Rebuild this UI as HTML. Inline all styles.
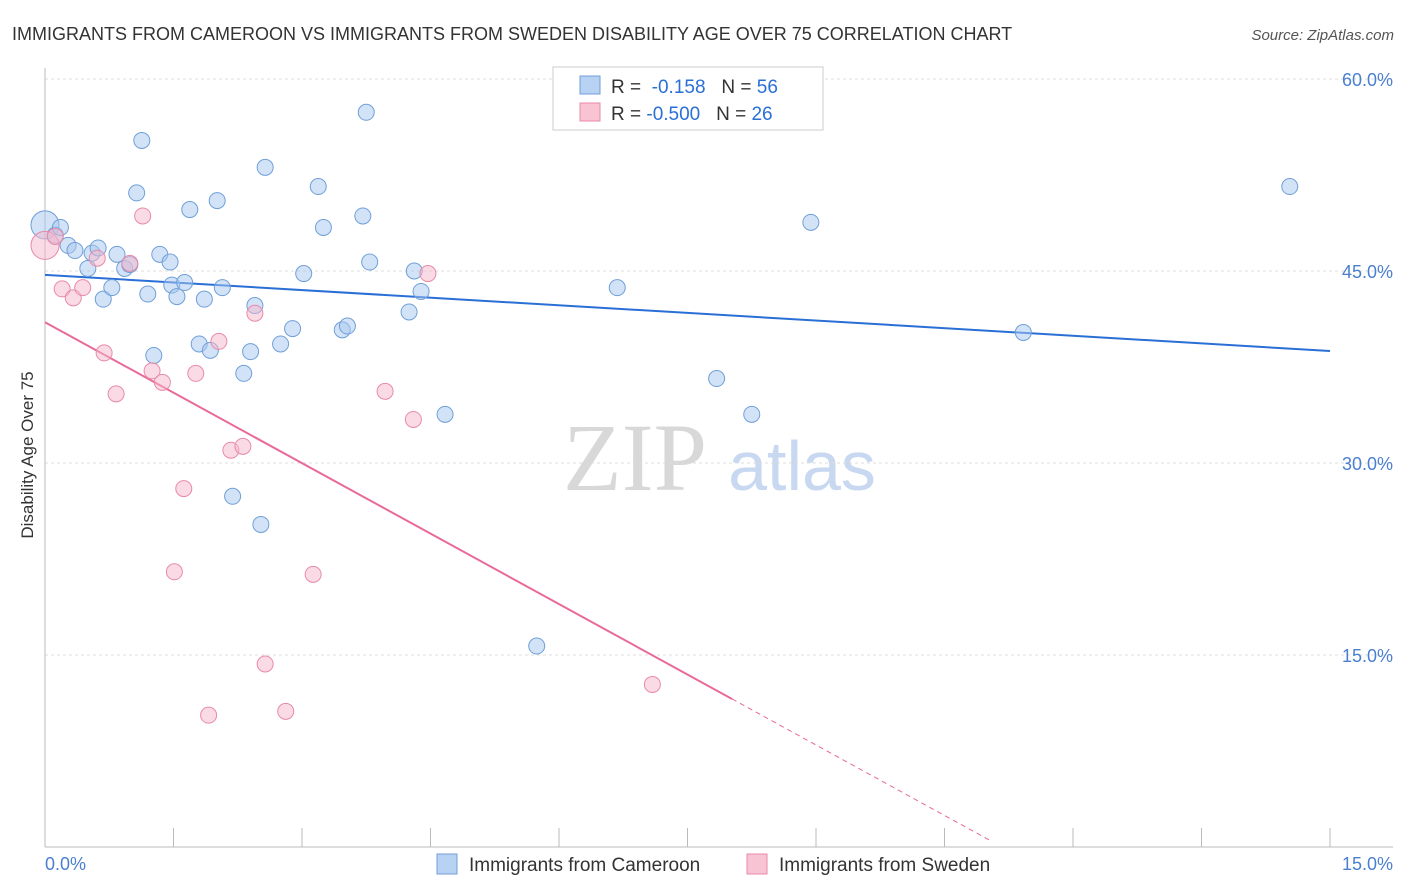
<!DOCTYPE html>
<html><head><meta charset="utf-8"><style>
body{margin:0;background:#fff;font-family:"Liberation Sans",sans-serif;}
svg{display:block}
</style></head><body>
<svg id="chart" width="1406" height="892" xmlns="http://www.w3.org/2000/svg">
<text x="12" y="40" font-size="18" fill="#333">IMMIGRANTS FROM CAMEROON VS IMMIGRANTS FROM SWEDEN DISABILITY AGE OVER 75 CORRELATION CHART</text>
<text x="1394" y="40" font-size="15" fill="#555" font-style="italic" text-anchor="end">Source: ZipAtlas.com</text>
<g>
<text x="635" y="490" font-size="96" fill="#d8d8d8" font-family="Liberation Serif,serif" text-anchor="middle">ZIP</text>
<text x="802" y="490" font-size="70" fill="#c8d8f0" text-anchor="middle">atlas</text>
</g>
<g id="grid"></g><g id="axes"></g><g id="lines"></g><g id="points"></g>
<text transform="translate(33,455) rotate(-90)" font-size="17" fill="#333" text-anchor="middle">Disability Age Over 75</text>
<g>
<rect x="553" y="67" width="270" height="63" fill="#fff" stroke="#ccc"/>
<rect x="580" y="76" width="20" height="18" fill="#b8d2f4" stroke="#6f9fd8"/>
<rect x="580" y="103" width="20" height="18" fill="#f8c4d4" stroke="#e88aa8"/>
<text x="611" y="93" font-size="19" fill="#333">R = <tspan fill="#2a6fd6">&#160;-0.158</tspan>&#160;&#160;&#160;N = <tspan fill="#2a6fd6">56</tspan></text>
<text x="611" y="120" font-size="19" fill="#333">R = <tspan fill="#2a6fd6">-0.500</tspan>&#160;&#160;&#160;N = <tspan fill="#2a6fd6">26</tspan></text>
</g>
<g>
<rect x="437" y="854" width="20" height="20" fill="#b8d2f4" stroke="#6f9fd8"/>
<text x="469" y="871" font-size="19" fill="#333">Immigrants from Cameroon</text>
<rect x="747" y="854" width="20" height="20" fill="#f8c4d4" stroke="#e88aa8"/>
<text x="779" y="871" font-size="19" fill="#333">Immigrants from Sweden</text>
</g>
</svg>
<script>
const yTicks=[15,30,45,60];
const yTickLabels=["15.0%","30.0%","45.0%","60.0%"];
const xTickLabels=["0.0%","15.0%"];
const blueX=[0.0,0.12,0.18,0.27,0.35,0.50,0.55,0.62,0.68,0.78,0.84,0.93,0.99,1.07,1.13,1.20,1.27,1.34,1.46,1.48,1.54,1.63,1.69,1.80,1.86,1.93,2.01,2.07,2.19,2.32,2.40,2.45,2.52,2.57,2.75,2.89,3.02,3.19,3.25,3.47,3.53,3.71,3.75,3.79,4.25,4.31,4.39,4.67,5.74,6.68,7.84,8.25,8.94,11.42,14.53];
const blueY=[48.6,47.8,48.4,47.0,46.6,45.2,46.4,46.8,42.8,43.7,46.3,45.2,45.5,51.1,55.2,43.2,38.4,46.3,45.7,43.9,43.0,44.1,49.8,39.3,42.8,38.8,50.5,43.7,27.4,37.0,38.7,42.3,25.2,53.1,39.3,40.5,44.8,51.6,48.4,40.4,40.7,49.3,57.4,45.7,41.8,45.0,43.4,33.8,15.7,43.7,36.6,33.8,48.8,40.2,51.6];
const pinkX=[0.0,0.12,0.20,0.33,0.44,0.61,0.69,0.83,0.99,1.14,1.25,1.37,1.51,1.62,1.76,1.91,2.03,2.17,2.31,2.45,2.57,2.81,3.13,3.97,4.30,4.47,7.09];
const pinkY=[47.0,47.7,43.6,42.9,43.7,46.0,38.6,35.4,45.6,49.3,37.2,36.3,21.5,28.0,37.0,10.3,39.5,31.0,31.3,41.7,14.3,10.6,21.3,35.6,33.4,44.8,12.7];
const blueTrend=[44.7,38.75];
const pinkTrend=[41.0,-3.67];
const NS="http://www.w3.org/2000/svg";
const sx=v=>45+v*(1285/15);
const sy=v=>847-v*12.8;
function mk(tag,attrs,parent){const e=document.createElementNS(NS,tag);for(const k in attrs)e.setAttribute(k,attrs[k]);document.getElementById(parent).appendChild(e);return e;}
yTicks.forEach((t,i)=>{
 const g=mk('line',{x1:45,x2:1393,y1:sy(t),y2:sy(t),stroke:'#ddd','stroke-dasharray':'3,3'},'grid');
 
 
 const l=mk('text',{x:1393,y:sy(t)+7,'font-size':18,fill:'#4a7fd0','text-anchor':'end'},'grid');
 l.textContent=yTickLabels[i];
 
 
});
const ax=mk('line',{x1:45,x2:45,y1:68,y2:847,stroke:'#bbb'},'axes');


const bx=mk('line',{x1:45,x2:1393,y1:847,y2:847,stroke:'#bbb'},'axes');


for(let i=0;i<=10;i++){
 const t=mk('line',{x1:sx(i*1.5),x2:sx(i*1.5),y1:828,y2:847,stroke:'#bbb'},'axes');
 
 
}
[[0,'start',45],[1,'end',1393]].forEach(([i,a,x])=>{
 const l=mk('text',{x:x,y:870,'font-size':18,fill:'#4a7fd0','text-anchor':a},'axes');
 l.textContent=xTickLabels[i];
 
 
});
const bl=mk('line',{x1:sx(0),y1:sy(blueTrend[0]),x2:sx(15),y2:sy(blueTrend[1]),stroke:'#2a6fd6','stroke-width':2},'lines');


const pe=8.02,pd=11.03;
const pl=mk('line',{x1:sx(0),y1:sy(pinkTrend[0]),x2:sx(pe),y2:sy(pinkTrend[0]+pinkTrend[1]*pe),stroke:'#e8699a','stroke-width':2},'lines');


const pdl=mk('line',{x1:sx(pe),y1:sy(pinkTrend[0]+pinkTrend[1]*pe),x2:sx(pd),y2:sy(pinkTrend[0]+pinkTrend[1]*pd),stroke:'#e8699a','stroke-width':1,'stroke-dasharray':'5,4'},'lines');


blueX.forEach((x,i)=>{
 const c=mk('circle',{cx:sx(x),cy:sy(blueY[i]),r:i===0?14:8,fill:'rgba(168,200,240,0.5)',stroke:'#6f9fd8','stroke-width':1},'points');
 
 
});
pinkX.forEach((x,i)=>{
 const c=mk('circle',{cx:sx(x),cy:sy(pinkY[i]),r:i===0?14:8,fill:'rgba(245,184,204,0.5)',stroke:'#e88aa8','stroke-width':1},'points');
 
 
});
</script>
</body></html>
